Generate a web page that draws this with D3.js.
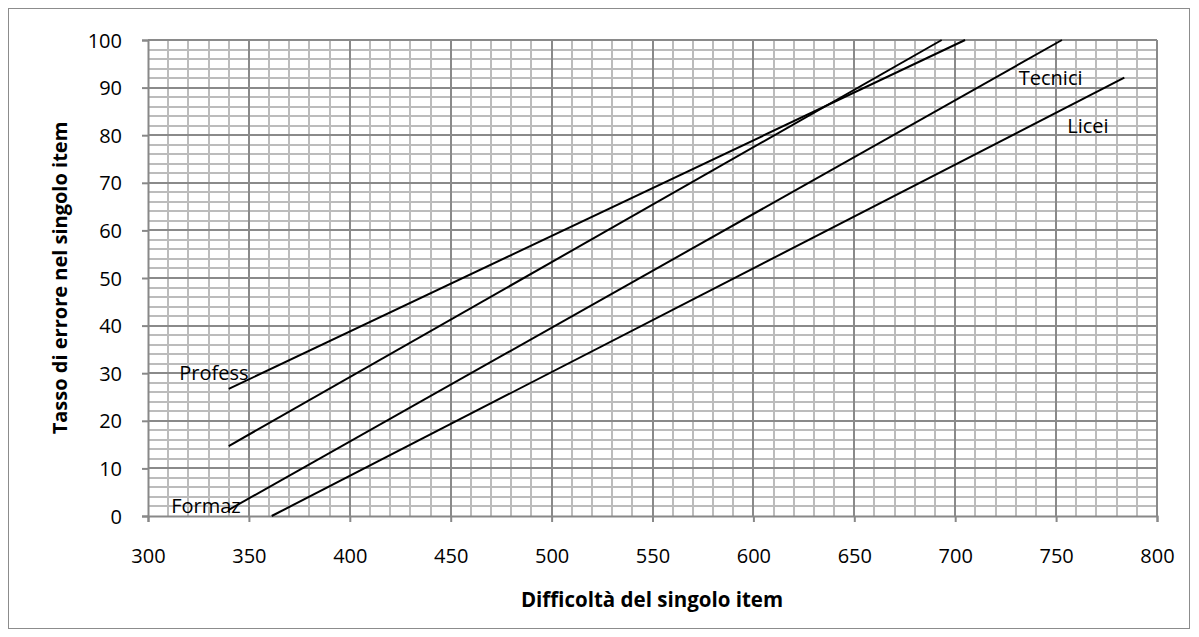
<!DOCTYPE html>
<html><head><meta charset="utf-8">
<script src="https://cdn.jsdelivr.net/npm/d3@7"></script>
<style>
body{margin:0;background:#fff;}
text{font-family:"Open Sans","Noto Sans",sans-serif;fill:#000;}
</style></head>
<body><svg id="c" width="1199" height="637"></svg>
<script>
// Data
const seriesNames = ["Profess", "Seconda", "Tecnici", "Licei"];
const seriesX = [[340, 704.9], [340, 693.3], [340, 752.9], [361.3, 783.8]];
const seriesY = [[26.7, 100], [14.7, 100], [1.3, 100], [0, 92.1]];
const labelTexts = ["Profess", "Formaz", "Tecnici", "Licei"];
const labelX = [315.5, 311.5, 731.5, 755.5];
const labelY = [30, 2.2, 92, 82];
const xTicks = [300, 350, 400, 450, 500, 550, 600, 650, 700, 750, 800];
const yTicks = [0, 10, 20, 30, 40, 50, 60, 70, 80, 90, 100];
const xTitle = "Difficoltà del singolo item";
const yTitle = "Tasso di errore nel singolo item";

const svg = d3.select("#c");
const L = 148, R = 1157, T = 40, B = 516;
const x = d3.scaleLinear().domain([300, 800]).range([L, R]);
const y = d3.scaleLinear().domain([0, 100]).range([B, T]);

// outer border
svg.append("rect").attr("x", 8.5).attr("y", 8.5).attr("width", 1181).attr("height", 620)
  .attr("fill", "#fff").attr("stroke", "#8c8c8c").attr("stroke-width", 1);

const g = svg.append("g").attr("shape-rendering", "crispEdges");
// minor grid
const xMinor = d3.range(300, 801, 10).filter(v => v % 50 !== 0);
const yMinor = d3.range(0, 101, 2).filter(v => v % 10 !== 0);
g.selectAll(".vm").data(xMinor).join("line")
  .attr("x1", d => Math.round(x(d))).attr("x2", d => Math.round(x(d)))
  .attr("y1", T).attr("y2", B).attr("stroke", "#bcbcbc").attr("stroke-width", 2);
g.selectAll(".hm").data(yMinor).join("line")
  .attr("y1", d => Math.round(y(d))).attr("y2", d => Math.round(y(d)))
  .attr("x1", L).attr("x2", R).attr("stroke", "#bcbcbc").attr("stroke-width", 2);
// major grid
g.selectAll(".vM").data(xTicks.slice(1)).join("line")
  .attr("x1", d => Math.round(x(d))).attr("x2", d => Math.round(x(d)))
  .attr("y1", T).attr("y2", B).attr("stroke", "#8a8a8a").attr("stroke-width", 2);
g.selectAll(".hM").data(yTicks.slice(1)).join("line")
  .attr("y1", d => Math.round(y(d))).attr("y2", d => Math.round(y(d)))
  .attr("x1", L).attr("x2", R).attr("stroke", "#8a8a8a").attr("stroke-width", 2);

// axes
const xAxis = svg.append("g").attr("transform", `translate(0,${B})`)
  .call(d3.axisBottom(x).tickValues(xTicks).tickSize(6).tickPadding(27));
const yAxis = svg.append("g").attr("transform", `translate(${L},0)`)
  .call(d3.axisLeft(y).tickValues(yTicks).tickSize(6).tickPadding(20));
[xAxis, yAxis].forEach(a => {
  a.select(".domain").attr("stroke", "#888").attr("stroke-width", 2);
  a.selectAll(".tick line").attr("stroke", "#888").attr("stroke-width", 2);
  a.selectAll("text").style("font-size", "20px").attr("fill", "#000");
});
yAxis.selectAll("text").attr("dy", "0.35em");

// lines
const line = d3.line().x(d => x(d[0])).y(d => y(d[1]));
svg.selectAll(".s").data(seriesNames).join("path")
  .attr("d", (d, i) => line(seriesX[i].map((v, j) => [v, seriesY[i][j]])))
  .attr("fill", "none").attr("stroke", "#000").attr("stroke-width", 2);

// labels
svg.selectAll(".lab").data(labelTexts).join("text")
  .attr("x", (d, i) => x(labelX[i])).attr("y", (d, i) => y(labelY[i]))
  .attr("dy", "0.35em").style("font-size", "20px").text(d => d);

// titles
svg.append("text").attr("x", 652).attr("y", 607).attr("text-anchor", "middle")
  .style("font-size", "20.5px").style("font-weight", "bold").text(xTitle);
svg.append("text").attr("transform", `translate(67,${(T + B) / 2}) rotate(-90)`)
  .attr("text-anchor", "middle").style("font-size", "20px").style("font-weight", "bold").text(yTitle);
</script></body></html>
